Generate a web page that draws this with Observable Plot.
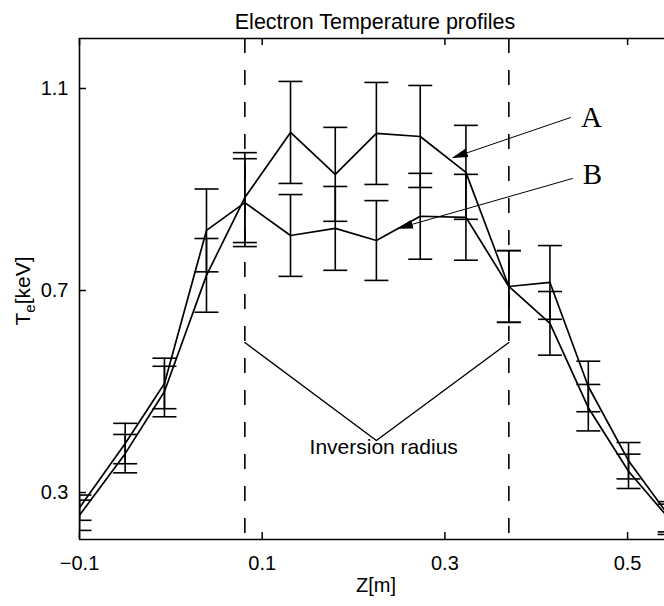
<!DOCTYPE html>
<html>
<head>
<meta charset="utf-8">
<script src="https://cdn.jsdelivr.net/npm/d3@7"></script>
<script src="https://cdn.jsdelivr.net/npm/@observablehq/plot@0.6"></script>
<style>
  html, body { margin: 0; padding: 0; background: #fff; overflow: hidden; }
  svg { display: block; }
</style>
</head>
<body>
<div id="chart"></div>
<script>
// ---- data ----
const zValues = [-0.1, -0.05, -0.007, 0.039, 0.081, 0.131, 0.180, 0.225, 0.273, 0.323, 0.370, 0.415, 0.457, 0.501, 0.546];
const teA  = [0.255, 0.377, 0.500, 0.730, 0.884, 1.013, 0.930, 1.011, 1.005, 0.934, 0.708, 0.716, 0.510, 0.363, 0.252];
const errA = [0.030, 0.038, 0.050, 0.073, 0.089, 0.101, 0.093, 0.101, 0.101, 0.093, 0.071, 0.073, 0.050, 0.036, 0.030];
const teB  = [0.270, 0.397, 0.516, 0.819, 0.874, 0.809, 0.823, 0.799, 0.847, 0.845, 0.708, 0.635, 0.468, 0.342, 0.247];
const errB = [0.025, 0.040, 0.050, 0.082, 0.087, 0.081, 0.083, 0.079, 0.085, 0.085, 0.071, 0.063, 0.046, 0.034, 0.030];

const xTicks = [-0.1, 0.1, 0.3, 0.5];
const yTicks = [0.3, 0.7, 1.1];
const xDomain = [-0.1, 0.5404];
const yDomain = [0.207, 1.199];

const inversionZ = [0.081, 0.370];            // dashed lines
const inversionVz = [0.081, 0.225, 0.370];     // V annotation
const inversionVt = [0.597, 0.403, 0.597];
const inversionLabel = "Inversion radius";
const inversionLabelPos = [0.233, 0.389];

const arrowLabels = ["A", "B"];
const arrowFromZ = [0.4377, 0.440];
const arrowFromT = [1.0426, 0.922];
const arrowToZ   = [0.3087, 0.2486];
const arrowToT   = [0.963, 0.823];
const labelZ = [0.449, 0.451];
const labelT = [1.0426, 0.930];

const titleText = "Electron Temperature profiles";
const xLabel = "Z[m]";

// ---- tables ----
const series = [];
zValues.forEach((z, i) => {
  series.push({s: "A", z, t: teA[i], e: errA[i]});
  series.push({s: "B", z, t: teB[i], e: errB[i]});
});
const inv = inversionVz.map((z, i) => ({z, t: inversionVt[i]}));
const arrows = arrowLabels.map((k, i) => ({k, z1: arrowFromZ[i], t1: arrowFromT[i], z2: arrowToZ[i], t2: arrowToT[i], lz: labelZ[i], lt: labelT[i]}));

const capSymbol = {
  draw(ctx, size) { const r = Math.sqrt(size / Math.PI); ctx.moveTo(-r, 0); ctx.lineTo(r, 0); }
};

const W = 664, H = 606, mL = 79, mR = 0, mT = 38, mB = 67;
const fw = W - mL - mR, fh = H - mT - mB;
const sans = "'Liberation Sans', Arial, Helvetica, sans-serif";

const svg = Plot.plot({
  width: W, height: H,
  marginLeft: mL, marginRight: mR, marginTop: mT, marginBottom: mB,
  style: {fontFamily: sans, fontSize: "20px", color: "black", background: "white", overflow: "visible"},
  x: {domain: xDomain},
  y: {domain: yDomain},
  marks: [
    // axis labels (ticks drawn inward separately)
    Plot.axisX(xTicks, {tickSize: 0, tickPadding: 16, fontSize: 20, tickFormat: d => d < 0 ? "\u2212" + Math.abs(d) : String(d)}),
    Plot.axisY(yTicks, {tickSize: 0, tickPadding: 11, fontSize: 20, tickFormat: d => String(d)}),
    // inward ticks
    Plot.tickX(xTicks, {x: d => d, insetTop: fh - 7, strokeWidth: 1.5}),
    Plot.tickX(xTicks, {x: d => d, insetBottom: fh - 7, strokeWidth: 1.5}),
    Plot.tickY(yTicks, {y: d => d, insetRight: fw - 7, strokeWidth: 1.5}),
    // frame (left, top, bottom)
    Plot.ruleX([xDomain[0]], {strokeWidth: 1.6}),
    Plot.ruleY([yDomain[0], yDomain[1]], {strokeWidth: 1.6}),
    // dashed inversion lines
    Plot.ruleX(inversionZ, {strokeWidth: 1.6, strokeDasharray: "15,17", strokeDashoffset: 0}),
    // inversion V annotation
    Plot.line(inv, {x: "z", y: "t", strokeWidth: 1.4}),
    Plot.text([inversionLabel], {x: () => inversionLabelPos[0], y: () => inversionLabelPos[1], text: d => d, fontSize: 21, fontFamily: sans}),
    // error bars
    Plot.ruleX(series, {x: "z", y1: d => d.t - d.e, y2: d => d.t + d.e, strokeWidth: 1.6, clip: true}),
    Plot.dot(series, {x: "z", y: d => d.t + d.e, symbol: capSymbol, r: 12, stroke: "black", fill: "none", strokeWidth: 1.6, clip: true}),
    Plot.dot(series, {x: "z", y: d => d.t - d.e, symbol: capSymbol, r: 12, stroke: "black", fill: "none", strokeWidth: 1.6, clip: true}),
    // profile lines
    Plot.line(series, {x: "z", y: "t", z: "s", stroke: "black", strokeWidth: 1.7, clip: true}),
    // A / B arrows
    Plot.link(arrows, {x1: "z1", y1: "t1", x2: "z2", y2: "t2", stroke: "black", strokeWidth: 1, markerEnd: "arrow"}),
    Plot.text(arrows, {x: "lz", y: "lt", text: "k", textAnchor: "start", fontFamily: "'Liberation Serif', 'Times New Roman', serif", fontSize: 29}),
    // title and x label
    Plot.text([titleText], {frameAnchor: "top", dy: -25, dx: 3, text: d => d, fontSize: 21.5}),
    Plot.text([xLabel], {frameAnchor: "bottom", dy: 52, dx: 4, text: d => d, fontSize: 20})
  ]
});

// filled arrow heads
svg.querySelectorAll("marker").forEach(m => {
  m.setAttribute("viewBox", "-15 -5 17 10");
  m.setAttribute("markerWidth", "17");
  m.setAttribute("markerHeight", "10");
  m.setAttribute("markerUnits", "userSpaceOnUse");
  m.setAttribute("refX", "0");
  m.setAttribute("refY", "0");
  m.setAttribute("fill", "black");
  m.setAttribute("stroke", "none");
  const p = m.querySelector("path");
  if (p) p.setAttribute("d", "M-15,-4.5L1,0L-15,4.5Z");
});

// y label with subscript
const ns = "http://www.w3.org/2000/svg";
const yl = document.createElementNS(ns, "text");
yl.setAttribute("transform", "translate(30,291) rotate(-90)");
yl.setAttribute("text-anchor", "middle");
yl.setAttribute("font-family", sans);
yl.setAttribute("font-size", "21");
yl.setAttribute("fill", "black");
const t1 = document.createElementNS(ns, "tspan"); t1.textContent = "T";
const t2 = document.createElementNS(ns, "tspan"); t2.textContent = "e"; t2.setAttribute("dy", "5"); t2.setAttribute("font-size", "15");
const t3 = document.createElementNS(ns, "tspan"); t3.textContent = "[keV]"; t3.setAttribute("dy", "-5");
yl.append(t1, t2, t3);
svg.appendChild(yl);

document.getElementById("chart").appendChild(svg);
</script>
</body>
</html>
